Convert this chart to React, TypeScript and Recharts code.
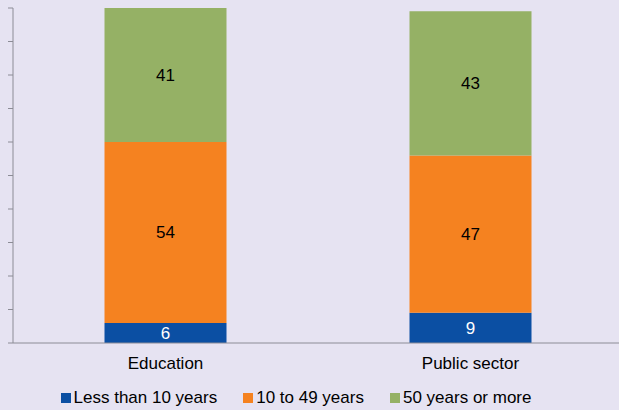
import React from 'react';
import { BarChart, Bar, XAxis, YAxis, Legend, LabelList } from 'recharts';

const categories = ['Education', 'Public sector'];
const lessThan10 = [6, 9];
const tenTo49 = [54, 47];
const fiftyPlus = [41, 43];
const yTicks = [0, 10, 20, 30, 40, 50, 60, 70, 80, 90, 100];
const boundaryTicks = [0, 1, 2];

const seriesNames = ['Less than 10 years', '10 to 49 years', '50 years or more'];
const colors = ['#0b4fa3', '#f58220', '#95b165'];

const data = categories.map((c, i) => ({
  name: c,
  a: lessThan10[i],
  b: tenTo49[i],
  c: fiftyPlus[i],
}));

const LegendContent = () => (
  <div
    style={{
      height: 33,
      display: 'flex',
      justifyContent: 'center',
      alignItems: 'center',
      paddingTop: 9,
      paddingRight: 31,
      boxSizing: 'border-box',
      fontSize: 17,
      color: '#000',
    }}
  >
    {seriesNames.map((n, i) => (
      <div key={n} style={{ display: 'flex', alignItems: 'center', marginRight: i < 2 ? 26 : 0 }}>
        <span style={{ width: 10, height: 10, background: colors[i], display: 'inline-block', marginRight: 3 }} />
        <span>{n}</span>
      </div>
    ))}
  </div>
);

export default function App() {
  return (
    <div
      style={{
        width: 619,
        height: 410,
        background: '#e6e3f2',
        fontFamily: '"Liberation Sans", Arial, sans-serif',
        overflow: 'hidden',
      }}
    >
      <style>{`html,body{margin:0;padding:0;background:#e6e3f2;}`}</style>
      <BarChart
        width={619}
        height={410}
        data={data}
        margin={{ top: 8, right: -4, bottom: 0, left: 0 }}
        barCategoryGap="30%"
      >
        <XAxis
          xAxisId="grid"
          type="number"
          domain={[0, 2]}
          ticks={boundaryTicks}
          axisLine={false}
          tickLine={{ stroke: '#8c8c96' }}
          tickSize={5}
          tickFormatter={() => ''}
          height={0}
        />
        <XAxis
          dataKey="name"
          axisLine={{ stroke: '#8c8c96' }}
          tickLine={false}
          tickSize={5}
          tickMargin={9}
          height={34}
          tick={{ fill: '#000', fontSize: 17 }}
        />
        <YAxis
          domain={[0, 100]}
          ticks={yTicks}
          interval={0}
          allowDataOverflow
          width={13}
          tickSize={5}
          axisLine={{ stroke: '#8c8c96' }}
          tickLine={{ stroke: '#8c8c96' }}
          tickFormatter={() => ''}
        />
        <Legend verticalAlign="bottom" content={<LegendContent />} wrapperStyle={{ height: 33 }} />
        <Bar dataKey="a" stackId="s" fill={colors[0]} isAnimationActive={false}>
          <LabelList dataKey="a" position="center" fill="#fff" fontSize={17} />
        </Bar>
        <Bar dataKey="b" stackId="s" fill={colors[1]} isAnimationActive={false}>
          <LabelList dataKey="b" position="center" fill="#000" fontSize={17} />
        </Bar>
        <Bar dataKey="c" stackId="s" fill={colors[2]} isAnimationActive={false}>
          <LabelList dataKey="c" position="center" fill="#000" fontSize={17} />
        </Bar>
      </BarChart>
    </div>
  );
}
